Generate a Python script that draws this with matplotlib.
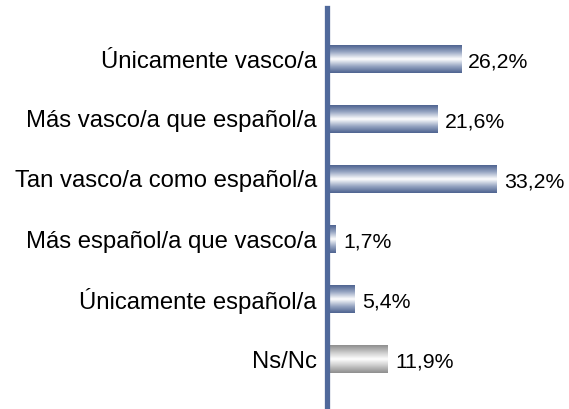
import numpy as np
import matplotlib.pyplot as plt
from matplotlib.colors import LinearSegmentedColormap

# identidad nacional subjetiva
categorias = ["Únicamente vasco/a", "Más vasco/a que español/a",
              "Tan vasco/a como español/a", "Más español/a que vasco/a",
              "Únicamente español/a", "Ns/Nc"]
valores = [26.2, 21.6, 33.2, 1.7, 5.4, 11.9]
etiquetas = ["26,2%", "21,6%", "33,2%", "1,7%", "5,4%", "11,9%"]

plt.rcParams['font.family'] = ['Liberation Sans', 'DejaVu Sans']

azul = LinearSegmentedColormap.from_list(
    "azul", ["#4e6390", "#9aa8c4", "#ffffff", "#9aa8c4", "#4e6390"])
gris = LinearSegmentedColormap.from_list(
    "gris", ["#8e8e8e", "#c8c8c8", "#ffffff", "#c8c8c8", "#8e8e8e"])

fig = plt.figure(figsize=(5.69, 4.09), dpi=100)
ax = fig.add_axes([326.5 / 569, 2 / 409, 240 / 569, 399 / 409])

y = np.arange(len(categorias))
alto = 0.46
grad = np.linspace(0, 1, 64).reshape(-1, 1)
for i, (v, txt) in enumerate(zip(valores, etiquetas)):
    cmap = gris if categorias[i] == "Ns/Nc" else azul
    ax.imshow(grad, cmap=cmap, aspect='auto', interpolation='bicubic',
              extent=(0, v, y[i] + alto / 2, y[i] - alto / 2), zorder=2)
    ax.text(v + 1.5, y[i] + 0.05, txt, va='center', ha='left', fontsize=15.3)

ax.set_xlim(0, 240 / 5.12)
ax.set_ylim(len(categorias) - 1 + 0.8, -0.85)
ax.set_yticks(y)
ax.set_yticklabels(categorias, fontsize=17.2)
ax.tick_params(axis='y', length=0, pad=7)
ax.set_xticks([])
for s in ['top', 'right', 'bottom']:
    ax.spines[s].set_visible(False)
ax.spines['left'].set_color('#50699b')
ax.spines['left'].set_linewidth(3.8)
ax.spines['left'].set_zorder(3)

fig.savefig("out.png", dpi=100)
